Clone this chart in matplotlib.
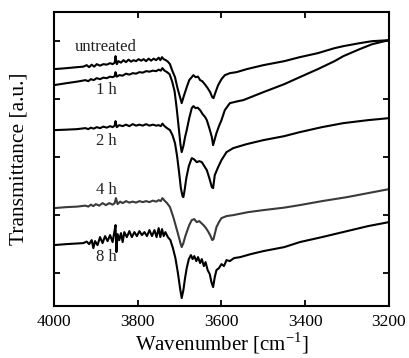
import matplotlib
matplotlib.use("Agg")
import matplotlib.pyplot as plt

# IR spectra (OH stretching region)
wn_untreated = [4000, 3970, 3945, 3930, 3922, 3916, 3910, 3904, 3898, 3890, 3882, 3874, 3866, 3860,
                3855, 3853, 3850, 3846, 3840, 3834, 3828, 3822, 3816, 3810, 3804, 3798, 3792, 3786,
                3780, 3774, 3768, 3762, 3756, 3750, 3746, 3742, 3738, 3733, 3728, 3723, 3718, 3711,
                3705, 3699, 3695, 3690, 3683, 3677, 3671, 3667, 3662, 3656, 3651, 3646, 3640, 3633,
                3627, 3622, 3619, 3615, 3608, 3600, 3592, 3580, 3564, 3540, 3500, 3450, 3413, 3370,
                3330, 3309, 3270, 3240, 3200]
t_untreated = [23.7, 23.8, 23.9, 23.95, 24.1, 23.9, 24.15, 23.95, 24.2, 24.05, 24.2, 24.15, 24.3, 24.2,
               24.35, 25.0, 24.2, 24.5, 24.35, 24.6, 24.4, 24.65, 24.45, 24.6, 24.5, 24.7, 24.55, 24.7,
               24.5, 24.75, 24.55, 24.75, 24.6, 24.85, 24.6, 24.9, 24.7, 24.6, 24.45, 24.2, 23.6, 22.9,
               21.8, 20.9, 20.3, 21.0, 21.9, 22.6, 22.9, 23.1, 22.9, 22.95, 22.6, 22.5, 22.2, 21.8,
               21.4, 20.9, 20.8, 21.3, 22.1, 22.7, 23.1, 23.3, 23.4, 23.7, 24.1, 24.5, 24.9, 25.3,
               25.8, 26.0, 26.3, 26.5, 26.6]

wn_1h = [4000, 3970, 3945, 3925, 3918, 3912, 3905, 3898, 3890, 3882, 3874, 3866, 3860, 3855,
         3853, 3850, 3844, 3836, 3828, 3820, 3812, 3804, 3796, 3788, 3780, 3772, 3764, 3756,
         3750, 3745, 3741, 3736, 3730, 3724, 3718, 3712, 3707, 3702, 3698, 3695, 3691, 3687,
         3683, 3677, 3671, 3667, 3662, 3657, 3651, 3645, 3639, 3635, 3629, 3623, 3620, 3616,
         3612, 3606, 3600, 3592, 3580, 3560, 3548, 3500, 3450, 3413, 3370, 3330, 3309, 3270,
         3240, 3200]
t_1h = [22.1, 22.3, 22.45, 22.6, 22.5, 22.7, 22.6, 22.8, 22.7, 22.85, 22.8, 22.95, 22.9, 23.0,
        23.4, 22.95, 23.1, 23.05, 23.25, 23.15, 23.3, 23.25, 23.4, 23.35, 23.5, 23.45, 23.55, 23.5,
        23.65, 23.55, 23.8, 23.55, 23.4, 23.2, 22.5, 21.5, 19.8, 17.8, 16.2, 15.4, 16.0, 16.9,
        17.6, 18.8, 19.8, 20.0, 19.8, 19.85, 19.6, 19.2, 18.9, 18.6, 17.8, 16.9, 16.1, 16.7,
        17.3, 18.0, 18.6, 19.6, 20.3, 20.5, 20.6, 21.4, 22.2, 22.9, 23.7, 24.5, 25.0, 25.7,
        26.2, 26.6]

wn_2h = [4000, 3970, 3945, 3925, 3918, 3912, 3905, 3898, 3890, 3882, 3874, 3866, 3860, 3855,
         3853, 3850, 3844, 3836, 3828, 3820, 3812, 3804, 3796, 3788, 3780, 3772, 3764, 3756,
         3750, 3745, 3741, 3736, 3730, 3723, 3717, 3711, 3706, 3701, 3697, 3693, 3691, 3688,
         3684, 3678, 3671, 3666, 3659, 3653, 3647, 3641, 3635, 3629, 3623, 3620, 3616, 3608,
         3600, 3588, 3572, 3540, 3500, 3450, 3413, 3360, 3309, 3250, 3200]
t_2h = [17.6, 17.65, 17.7, 17.8, 17.7, 17.85, 17.75, 17.9, 17.8, 17.95, 17.85, 18.0, 17.9, 18.05,
        18.5, 17.9, 18.1, 18.0, 18.15, 18.0, 18.2, 18.05, 18.15, 18.05, 18.2, 18.05, 18.15, 18.05,
        18.1, 18.0, 18.25, 18.0, 17.8, 17.6, 17.1, 16.3, 15.0, 13.3, 11.8, 11.0, 10.9, 11.6,
        12.8, 14.0, 14.8, 14.7, 14.4, 14.5, 14.4, 14.0, 13.6, 12.8, 11.9, 11.8, 13.1, 13.9,
        14.6, 15.4, 15.8, 16.2, 16.6, 17.0, 17.4, 17.9, 18.3, 18.6, 18.8]

wn_4h = [4000, 3970, 3945, 3925, 3918, 3912, 3906, 3900, 3892, 3884, 3876, 3868, 3860, 3855,
         3852, 3848, 3842, 3836, 3828, 3820, 3812, 3804, 3796, 3788, 3780, 3772, 3764, 3756,
         3750, 3745, 3741, 3736, 3730, 3723, 3715, 3709, 3703, 3698, 3695, 3691, 3687, 3683,
         3677, 3671, 3665, 3659, 3653, 3648, 3643, 3637, 3631, 3626, 3622, 3619, 3612, 3606,
         3600, 3588, 3572, 3536, 3500, 3450, 3413, 3360, 3300, 3250, 3200]
t_4h = [9.8, 9.9, 9.95, 10.05, 9.95, 10.15, 10.0, 10.2, 10.05, 10.3, 10.1, 10.3, 10.15, 10.3,
        10.8, 10.2, 10.45, 10.3, 10.5, 10.35, 10.45, 10.35, 10.5, 10.4, 10.5, 10.4, 10.55, 10.45,
        10.6, 10.5, 10.8, 10.55, 10.3, 9.9, 8.9, 8.0, 7.1, 6.3, 5.9, 6.3, 6.9, 7.4,
        8.1, 8.6, 8.7, 8.4, 8.5, 8.3, 8.1, 7.8, 7.4, 7.0, 6.6, 6.7, 7.9, 8.4,
        8.8, 9.0, 9.1, 9.4, 9.6, 9.85, 10.1, 10.5, 10.9, 11.3, 11.7]

wn_8h = [4000, 3970, 3950, 3930, 3922, 3916, 3910, 3906, 3902, 3896, 3890, 3884, 3878, 3872,
         3866, 3860, 3856, 3853, 3851, 3848, 3844, 3840, 3836, 3832, 3826, 3820, 3814, 3808,
         3802, 3796, 3790, 3784, 3778, 3772, 3766, 3760, 3755, 3750, 3746, 3742, 3738, 3734,
         3728, 3722, 3716, 3710, 3704, 3699, 3695, 3691, 3687, 3683, 3678, 3673, 3669, 3665,
         3660, 3656, 3651, 3647, 3642, 3638, 3633, 3628, 3624, 3620, 3616, 3612, 3606, 3600,
         3594, 3588, 3580, 3570, 3555, 3530, 3500, 3450, 3413, 3360, 3300, 3250, 3200]
t_8h = [6.1, 6.2, 6.25, 6.3, 6.45, 6.2, 6.6, 5.8, 6.5, 6.1, 6.9, 6.3, 7.0, 6.5,
        7.1, 6.4, 7.4, 8.1, 5.4, 7.2, 6.6, 7.3, 6.4, 7.4, 6.9, 7.5, 6.9, 7.4,
        7.0, 7.5, 7.1, 7.4, 7.0, 7.6, 7.0, 7.6, 6.9, 7.8, 6.9, 7.7, 7.0, 7.4,
        6.9, 6.6, 5.8, 4.8, 3.3, 1.8, 0.8, 1.6, 2.8, 3.8, 4.7, 5.1, 4.7, 5.0,
        4.5, 4.9, 4.3, 4.7, 4.0, 4.4, 3.6, 3.2, 2.4, 1.9, 2.9, 3.6, 3.8, 4.2,
        4.0, 4.6, 4.5, 4.8, 4.9, 5.2, 5.5, 5.9, 6.4, 6.9, 7.5, 8.0, 8.4]

labels = ["untreated", "1 h", "2 h", "4 h", "8 h"]
label_y = [25.9, 21.6, 16.5, 11.6, 4.9]
colors = ["black", "black", "black", "#3a3a3a", "black"]

plt.rcParams["font.family"] = ["Liberation Serif", "DejaVu Serif"]

fig = plt.figure(figsize=(4.09, 3.58), dpi=100)
ax = fig.add_axes([0.132, 0.145, 0.819, 0.821])

series = [(wn_untreated, t_untreated), (wn_1h, t_1h), (wn_2h, t_2h), (wn_4h, t_4h), (wn_8h, t_8h)]
for (wn, t), c in zip(series, colors):
    ax.plot(wn, t, color=c, lw=1.5, solid_joinstyle="round")

for lab, y in zip(labels, label_y):
    ax.text(3876, y, lab, fontsize=12, ha="center", va="center", color="#222222")

ax.set_xlim(4000, 3200)
ax.set_ylim(0, 29.4)
ax.set_xticks([4000, 3800, 3600, 3400, 3200])
ax.set_yticks([3.3, 9.1, 14.9, 20.7, 26.5])
ax.set_yticklabels([])
ax.tick_params(direction="in", top=True, right=True, length=4, width=1.3, labelsize=12.5, pad=6)
for s in ax.spines.values():
    s.set_linewidth(1.5)

ax.set_xlabel("Wavenumber [cm$^{\\mathregular{-1}}$]", fontsize=15, labelpad=0)
ax.set_ylabel("Transmittance [a.u.]", fontsize=15.5)
ax.yaxis.set_label_coords(-0.075, 0.5)

fig.savefig("out.png", dpi=100)
